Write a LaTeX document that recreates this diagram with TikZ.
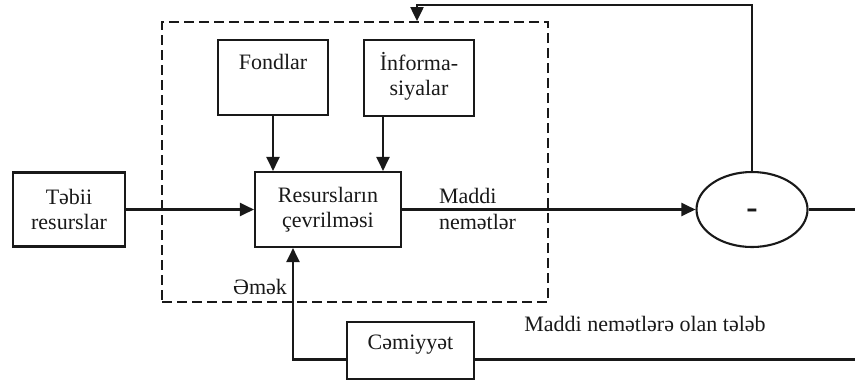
\documentclass[tikz,border=0pt]{standalone}
\usepackage{fontspec}
\setmainfont{Liberation Serif}
\usetikzlibrary{arrows.meta,shapes.geometric}
\begin{document}
\begin{tikzpicture}[x=0.5pt,y=-0.5pt,
  every node/.style={font=\fontsize{11pt}{12.5pt}\selectfont, text=black!90},
  block/.style={draw=black!90, line width=1.05pt, rectangle, inner sep=0pt, align=center},
  wire/.style={draw=black!90, line width=1.05pt},
  flow/.style={wire, -{Triangle[length=7pt,width=6.5pt]}},
  frame/.style={draw=black!90, line width=0.9pt, dash pattern=on 5pt off 2.5pt, rectangle, inner sep=0pt}]
  \useasboundingbox[fill=white] (0,0) rectangle (855,381);

  % dashed boundary of the production block
  \node[frame, minimum width=193pt, minimum height=140pt] (frame) at (355,162) {};

  % blocks
  \node[block, minimum width=55pt, minimum height=37.5pt, text height=14.5pt, text depth=23pt]
    (fond) at (273,77.5) {Fondlar};
  \node[block, minimum width=55pt, minimum height=38pt]
    (info) at (419,78) {\raisebox{2.2pt}{\begin{tabular}{@{}c@{}}İnforma-\\siyalar\end{tabular}}};
  \node[block, minimum width=73pt, minimum height=37.5pt]
    (res) at (328,209.5) {Resursların\\çevrilməsi};
  \node[block, minimum width=56pt, minimum height=37pt]
    (tebii) at (69,209.5) {Təbii\\resurslar};
  \node[block, minimum width=63.5pt, minimum height=28.5pt, text height=13.5pt, text depth=15pt]
    (cem) at (410.5,350.5) {Cəmiyyət};
  \node[draw=black!90, line width=1.05pt, ellipse, inner sep=0pt,
        minimum width=55.5pt, minimum height=37.5pt] (ell) at (752,209.5) {};
  \node[font=\fontsize{17pt}{17pt}\selectfont\bfseries] (minus) at (752,214) {-};

  % free ends of the connectors
  \coordinate (edgeA) at (855,209.5);
  \coordinate (edgeB) at (855,359.5);
  \coordinate (topc) at (417,5);
  \coordinate (emk) at (293,359.5);

  % connectors
  \draw[flow] (fond.south) -- (fond.south |- res.north);
  \draw[flow] ([xshift=-18pt]info.south) -- ([xshift=-18pt]info.south |- res.north);
  \draw[flow] (tebii.east) -- (res.west);
  \draw[flow] (res.east) -- (ell.west);
  \draw[wire] (ell.east) -- (edgeA);
  \draw[flow] (ell.north) |- (topc) -- (topc |- frame.north);
  \draw[wire] ([yshift=-4.5pt]cem.east) -- (edgeB);
  \draw[flow] ([yshift=-4.5pt]cem.west) -- (emk) -- (emk |- res.south);

  % labels
  \node[anchor=west, align=left, font=\fontsize{11pt}{13pt}\selectfont] (maddi) at (432,208.5) {Maddi\\nemətlər};
  \node (emek) at (260,287) {Əmək};
  \node (teleb) at (645,324) {Maddi nemətlərə olan tələb};
\end{tikzpicture}
\end{document}
